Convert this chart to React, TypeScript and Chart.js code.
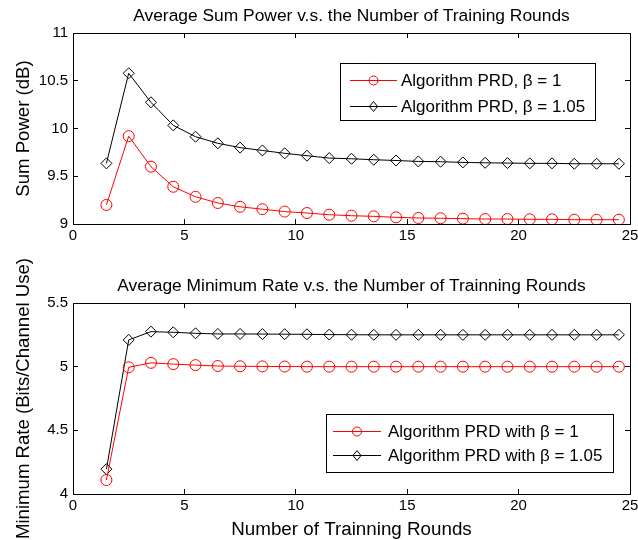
import React, { useEffect, useRef } from "react";
import { Chart, registerables } from "chart.js";

Chart.register(...registerables);

// Training rounds (x positions of the samples)
const rounds = [1.5, 2.5, 3.5, 4.5, 5.5, 6.5, 7.5, 8.5, 9.5, 10.5, 11.5, 12.5, 13.5, 14.5, 15.5, 16.5, 17.5, 18.5, 19.5, 20.5, 21.5, 22.5, 23.5, 24.5];

// Average sum power (dB)
const powerBeta1 = [9.2, 9.92, 9.6, 9.39, 9.285, 9.22, 9.18, 9.155, 9.13, 9.115, 9.097, 9.087, 9.08, 9.07, 9.063, 9.06, 9.056, 9.052, 9.052, 9.049, 9.049, 9.045, 9.045, 9.045];
const powerBeta105 = [9.635, 10.578, 10.274, 10.033, 9.914, 9.845, 9.8, 9.77, 9.74, 9.715, 9.69, 9.683, 9.673, 9.665, 9.655, 9.652, 9.645, 9.641, 9.638, 9.635, 9.635, 9.631, 9.631, 9.631];

// Average minimum rate (bits/channel use)
const rateBeta1 = [4.11, 4.995, 5.03, 5.02, 5.012, 5.005, 5.003, 5.002, 5.001, 5.0, 5.0, 5.0, 5.0, 5.0, 5.0, 5.0, 5.0, 5.0, 5.0, 5.0, 5.0, 5.0, 5.0, 5.0];
const rateBeta105 = [4.195, 5.21, 5.275, 5.27, 5.262, 5.257, 5.257, 5.256, 5.255, 5.254, 5.252, 5.251, 5.25, 5.25, 5.25, 5.25, 5.25, 5.25, 5.25, 5.25, 5.25, 5.25, 5.25, 5.25];

const xTicks = [0, 5, 10, 15, 20, 25];
const powerTicks = [9, 9.5, 10, 10.5, 11];
const rateTicks = [4, 4.5, 5, 5.5];

const topTitle = "Average Sum Power v.s. the Number of Training Rounds";
const bottomTitle = "Average Minimum Rate v.s. the Number of Trainning Rounds";
const powerLabel = "Sum Power (dB)";
const rateLabel = "Minimum Rate (Bits/Channel Use)";
const xLabel = "Number of Trainning Rounds";
const topLegend = ["Algorithm PRD, \u03b2 = 1", "Algorithm PRD, \u03b2 = 1.05"];
const bottomLegend = ["Algorithm PRD with \u03b2 = 1", "Algorithm PRD with \u03b2 = 1.05"];

const FONT = '"Liberation Sans", Arial, Helvetica, sans-serif';
const RED = "#ff0000";
const INK = "#000000";
const CW = 638;
const CH = 540;
const TICK_IN = -5; // negative tick length turns the tick marks inward

type PanelCfg = {
  areaTop: number;
  areaBottom: number;
  yTicks: number[];
  title: string;
  titleY: number;
  yLabel: string;
  xLabelY: number | null;
  legend: string[];
  legendBox: { x: number; y: number; w: number; h: number; lineX0: number; lineX1: number; textX: number; rows: number[] };
  red: number[];
  black: number[];
};

function drawMarker(ctx: CanvasRenderingContext2D, kind: string, x: number, y: number, r: number, color: string) {
  ctx.save();
  ctx.strokeStyle = color;
  ctx.lineWidth = 1;
  ctx.beginPath();
  if (kind === "circle") {
    ctx.arc(x, y, r, 0, Math.PI * 2);
  } else {
    ctx.moveTo(x, y - r * 1.1);
    ctx.lineTo(x + r * 0.9, y);
    ctx.lineTo(x, y + r * 1.1);
    ctx.lineTo(x - r * 0.9, y);
    ctx.closePath();
  }
  ctx.stroke();
  ctx.restore();
}

// Titles, axis labels and the legend box
function decorate(c: any, cfg: PanelCfg) {
  const ctx = c.ctx;
  const a = c.chartArea;

  ctx.save();
  ctx.fillStyle = INK;
  const cx = (a.left + a.right) / 2;
  ctx.textAlign = "center";
  ctx.textBaseline = "alphabetic";
  ctx.font = `17.4px ${FONT}`;
  ctx.fillText(cfg.title, cx, cfg.titleY);

  ctx.save();
  ctx.font = `18.6px ${FONT}`;
  ctx.translate(28.5, (a.top + a.bottom) / 2);
  ctx.rotate(-Math.PI / 2);
  ctx.fillText(cfg.yLabel, 0, 0);
  ctx.restore();

  if (cfg.xLabelY !== null) {
    ctx.font = `18.8px ${FONT}`;
    ctx.fillText(xLabel, cx, cfg.xLabelY);
  }

  const lb = cfg.legendBox;
  ctx.fillStyle = "#ffffff";
  ctx.fillRect(lb.x, lb.y, lb.w, lb.h);
  ctx.strokeStyle = INK;
  ctx.lineWidth = 1;
  ctx.strokeRect(lb.x + 0.5, lb.y + 0.5, lb.w, lb.h);
  ctx.font = `17px ${FONT}`;
  ctx.textAlign = "left";
  ctx.textBaseline = "middle";
  cfg.legend.forEach((txt, i) => {
    const color = i === 0 ? RED : INK;
    const y = lb.rows[i] + 0.5;
    ctx.strokeStyle = color;
    ctx.beginPath();
    ctx.moveTo(lb.lineX0, y);
    ctx.lineTo(lb.lineX1, y);
    ctx.stroke();
    drawMarker(ctx, i === 0 ? "circle" : "diamond", (lb.lineX0 + lb.lineX1) / 2, y, 4.5, color);
    ctx.fillStyle = INK;
    ctx.fillText(txt, lb.textX, y + 1);
  });
  ctx.restore();
}

function Panel({ cfg }: { cfg: PanelCfg }) {
  const ref = useRef<HTMLCanvasElement | null>(null);
  useEffect(() => {
    if (!ref.current) return;
    const toPts = (vals: number[]) => rounds.map((x, i) => ({ x, y: vals[i] }));
    const yMin = cfg.yTicks[0];
    const yMax = cfg.yTicks[cfg.yTicks.length - 1];
    const tickGrid = { display: true, drawOnChartArea: false, drawTicks: true, tickLength: TICK_IN, color: INK, lineWidth: 1 };
    const frameBorder = { display: true, color: INK, width: 1 };
    const setX = (s: any) => {
      s.ticks = xTicks.map((v) => ({ value: v }));
    };
    const setY = (s: any) => {
      s.ticks = cfg.yTicks.map((v) => ({ value: v }));
    };
    const chart = new Chart(ref.current, {
      type: "line",
      data: {
        datasets: [
          {
            data: toPts(cfg.red),
            borderColor: RED,
            borderWidth: 1,
            pointStyle: "circle",
            pointRadius: 5.5,
            pointBorderWidth: 1,
            pointBorderColor: RED,
            pointBackgroundColor: "rgba(0,0,0,0)",
            tension: 0,
          },
          {
            data: toPts(cfg.black),
            borderColor: INK,
            borderWidth: 1,
            pointStyle: "rectRot",
            pointRadius: 5.5,
            pointBorderWidth: 1,
            pointBorderColor: INK,
            pointBackgroundColor: "rgba(0,0,0,0)",
            tension: 0,
          },
        ],
      },
      options: {
        responsive: false,
        animation: false,
        devicePixelRatio: 1,
        layout: { padding: { left: 0, right: 8, top: cfg.areaTop, bottom: 0 } },
        plugins: { legend: { display: false }, tooltip: { enabled: false } },
        scales: {
          x: {
            type: "linear",
            position: "bottom",
            min: 0,
            max: 25,
            grid: tickGrid,
            border: frameBorder,
            afterBuildTicks: setX,
            ticks: {
              color: INK,
              font: { family: FONT, size: 15 },
              padding: 8,
              maxRotation: 0,
              autoSkip: false,
              callback: (v: any) => String(v),
            },
            afterFit: (s: any) => {
              s.height = CH - cfg.areaBottom;
              s.paddingLeft = 0;
              s.paddingRight = 0;
            },
          },
          xTop: {
            type: "linear",
            position: "top",
            min: 0,
            max: 25,
            grid: tickGrid,
            border: frameBorder,
            afterBuildTicks: setX,
            ticks: { display: false },
            afterFit: (s: any) => {
              s.height = 0;
              s.paddingLeft = 0;
              s.paddingRight = 0;
            },
          },
          y: {
            type: "linear",
            position: "left",
            min: yMin,
            max: yMax,
            grid: tickGrid,
            border: frameBorder,
            afterBuildTicks: setY,
            ticks: {
              color: INK,
              font: { family: FONT, size: 15 },
              padding: 10,
              autoSkip: false,
              callback: (v: any) => String(v),
            },
            afterFit: (s: any) => {
              s.width = 73;
              s.paddingTop = 0;
              s.paddingBottom = 0;
            },
          },
          yRight: {
            type: "linear",
            position: "right",
            min: yMin,
            max: yMax,
            grid: tickGrid,
            border: frameBorder,
            afterBuildTicks: setY,
            ticks: { display: false },
            afterFit: (s: any) => {
              s.width = 0;
              s.paddingTop = 0;
              s.paddingBottom = 0;
            },
          },
        },
      } as any,
      plugins: [
        {
          id: "axesDecor",
          afterDraw(c: any) {
            decorate(c, cfg);
          },
        },
      ],
    });
    return () => chart.destroy();
  }, [cfg]);
  return (
    <canvas
      ref={ref}
      width={CW}
      height={CH}
      style={{ position: "absolute", left: 0, top: 0, width: CW, height: CH }}
    />
  );
}

const topCfg: PanelCfg = {
  areaTop: 33,
  areaBottom: 224,
  yTicks: powerTicks,
  title: topTitle,
  titleY: 21,
  yLabel: powerLabel,
  xLabelY: null,
  legend: topLegend,
  legendBox: { x: 340, y: 63, w: 255, h: 57, lineX0: 350, lineX1: 397, textX: 401, rows: [80, 106] },
  red: powerBeta1,
  black: powerBeta105,
};

const bottomCfg: PanelCfg = {
  areaTop: 303,
  areaBottom: 494,
  yTicks: rateTicks,
  title: bottomTitle,
  titleY: 291,
  yLabel: rateLabel,
  xLabelY: 535,
  legend: bottomLegend,
  legendBox: { x: 326, y: 414, w: 287, h: 58, lineX0: 333, lineX1: 381, textX: 388, rows: [431, 455] },
  red: rateBeta1,
  black: rateBeta105,
};

export default function App() {
  return (
    <div style={{ position: "fixed", left: 0, top: 0, width: CW, height: CH, background: "#ffffff" }}>
      <Panel cfg={topCfg} />
      <Panel cfg={bottomCfg} />
    </div>
  );
}
